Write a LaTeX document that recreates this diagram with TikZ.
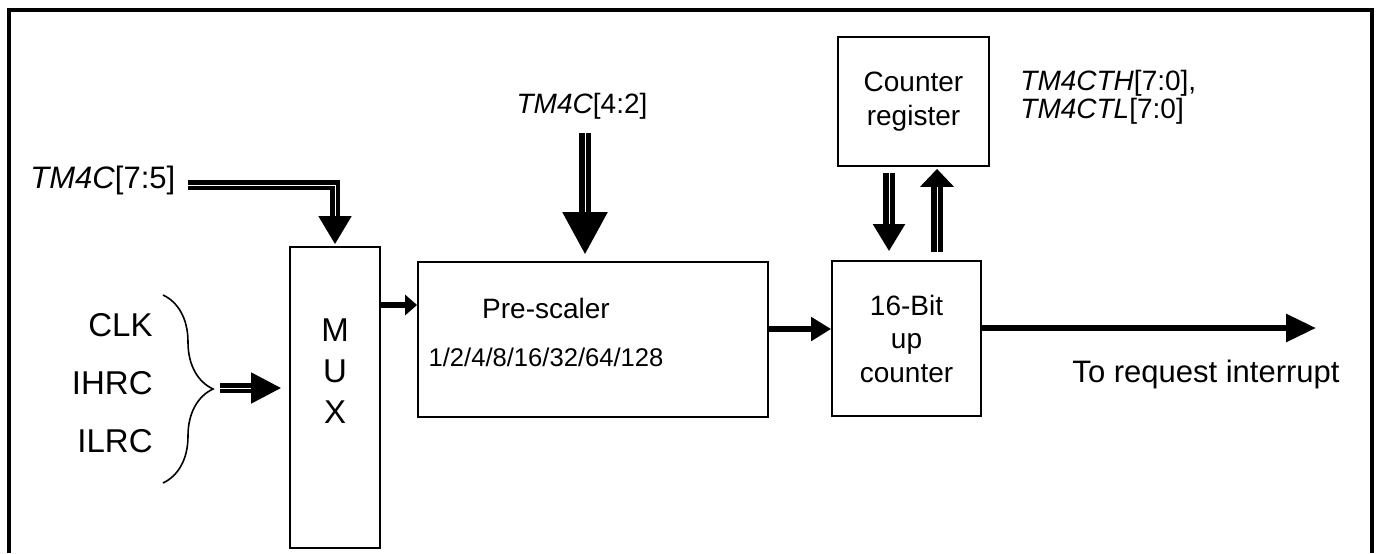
\documentclass[tikz,border=0pt]{standalone}
\usepackage{fontspec}
\setmainfont{Liberation Sans}
\usetikzlibrary{arrows.meta,calc,decorations.pathreplacing}

\begin{document}
\begin{tikzpicture}[x=0.5pt,y=-0.5pt,
    blk/.style={draw,line width=0.9pt,inner sep=0pt},
    bus/.style={draw,line width=2.5pt,double=white,double distance=0.45pt},
    sig/.style={draw,line width=2.6pt},
    txt/.style={font=\fontsize{14}{16.75}\selectfont,align=center,inner sep=0pt},
    big/.style={font=\fontsize{16.5}{20.5}\selectfont,align=center,inner sep=0pt},
    mid/.style={font=\fontsize{15.5}{18}\selectfont,inner sep=0pt}]
            \useasboundingbox (0,0) rectangle (1379,553);
            \draw[line width=1.6pt] (9,553) -- (9,10) -- (1372,10) -- (1372,553);

            % Blocks
            \node[blk, minimum width=45pt, minimum height=150.5pt] (mux) at (335,397.5) {};
            \node[big] (muxlbl) at (335,371) {M\\U\\X};
            \node[blk, minimum width=175pt, minimum height=77.5pt] (pre) at (593,339.5) {};
            \node[txt] (prelbl) at (546,308) {Pre-scaler};
            \node[txt, font=\fontsize{12.8}{15}\selectfont] (prediv) at (546,357) {1/2/4/8/16/32/64/128};
            \node[blk, txt, minimum width=74.5pt, minimum height=77.5pt] (cnt) at (906.5,338.5) {16-Bit\\up\\counter};
            \node[blk, txt, minimum width=75.5pt, minimum height=64.5pt] (reg) at (913.5,101.5) {Counter\\register};

            % Clock sources
            \node[big, anchor=east] (clk) at (153,325) {CLK};
            \node[big, anchor=east] (ihrc) at (153,383) {IHRC};
            \node[big, anchor=east] (ilrc) at (153,441) {ILRC};
            \draw[decorate, decoration={brace,amplitude=25pt}, line width=0.8pt] (163,295) -- (163,483);
            \coordinate (brtip) at (220,388);
            \draw[bus, -{Triangle[length=15pt,width=15pt]}, shorten >=4pt] (brtip) -- (brtip -| mux.west);

            % Register labels
            \node[mid, anchor=base west] (t75) at (30,188) {\textit{TM4C}[7:5]};
            \node[txt, anchor=base] (t42) at (582,113) {\textit{TM4C}[4:2]};
            \node[txt, anchor=base west] (tth) at (1020,90) {\textit{TM4CTH}[7:0],};
            \node[txt, anchor=base west] (ttl) at (1020,118) {\textit{TM4CTL}[7:0]};

            % Control buses
            \coordinate (a75) at ($(t75.base east)+(12,-3)$);
            \draw[bus, -{Triangle[length=14pt,width=16pt]}, shorten >=1pt] (a75) -| (mux.north);
            \coordinate (a42) at ($(t42.base)+(3,20)$);
            \draw[bus, line width=2.8pt, -{Triangle[length=21pt,width=22pt]}, shorten >=3.5pt] (a42) -- (a42 |- pre.north);
            \coordinate (rd) at ([xshift=-12.25pt]reg.south);
            \coordinate (ru) at ([xshift=11.75pt]reg.south);
            \draw[bus, line width=2.7pt, -{Triangle[length=13.5pt,width=15.5pt]}, shorten <=3pt, shorten >=4.5pt] (rd) -- (rd |- cnt.north);
            \draw[bus, line width=2.7pt, -{Triangle[length=9pt,width=16.5pt]}, shorten <=4pt, shorten >=1pt] (ru |- cnt.north) -- (ru);

            % Clock path
            \coordinate (muxout) at ([yshift=46.25pt]mux.east);
            \draw[sig, -{Triangle[length=6pt,width=10pt]}] (muxout) -- (muxout -| pre.west);
            \coordinate (preout) at ([yshift=5.25pt]pre.east);
            \draw[sig, -{Triangle[length=10pt,width=11.5pt]}] (preout) -- (preout -| cnt.west);
            \coordinate (cntout) at ([yshift=5.25pt]cnt.east);
            \coordinate (irq) at (1316,328);
            \draw[sig, line width=3pt, -{Triangle[length=15pt,width=13.5pt]}] (cntout) -- (irq);
            \node[mid, anchor=base] (irqlbl) at (1206,382) {To request interrupt};
\end{tikzpicture}
\end{document}
